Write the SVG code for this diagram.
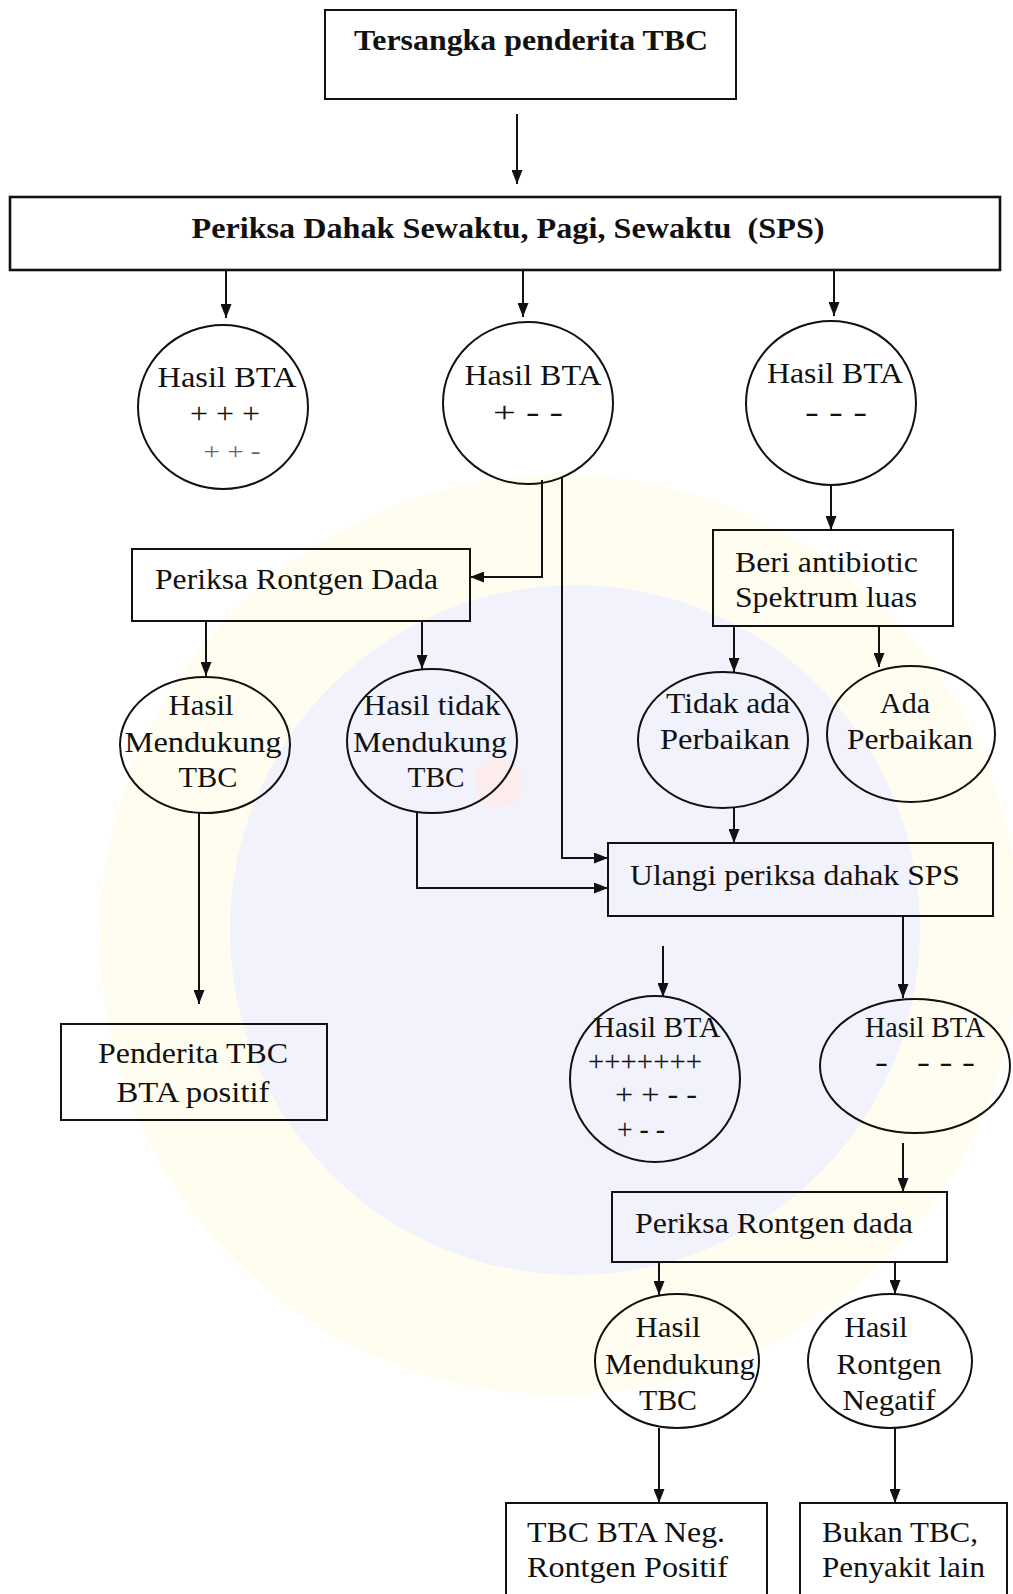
<svg xmlns="http://www.w3.org/2000/svg" width="1013" height="1594" viewBox="0 0 1013 1594">
  <style>
    .box { fill: none; stroke: #111; stroke-width: 2; }
    .box-heavy { fill: none; stroke: #111; stroke-width: 2.6; }
    .node { fill: none; stroke: #111; stroke-width: 2; }
    .t { font-family: "Liberation Serif", "Times New Roman", serif; font-size: 29px; fill: #111; }
    .tb { font-family: "Liberation Serif", "Times New Roman", serif; font-size: 29px; font-weight: bold; fill: #111; }
    .faint { fill: #666; font-size: 24px; }
    .c { text-anchor: middle; }
    .edge { fill: none; stroke: #111; stroke-width: 2; marker-end: url(#arrow); }
  </style>
  <defs>
    <marker id="arrow" markerUnits="userSpaceOnUse" viewBox="0 0 14 11" refX="14" refY="5.5" markerWidth="14" markerHeight="11" orient="auto">
      <path d="M0,0 L14,5.5 L0,11 z" fill="#111"/>
    </marker>
  </defs>

  <rect width="1013" height="1594" fill="#ffffff"/>

  <!-- faint emblem behind the chart -->
  <g id="watermark">
    <circle cx="560" cy="935" r="460" fill="#fffdf0"/>
    <circle cx="575" cy="930" r="345" fill="#f1f2fb"/>
    <circle cx="498" cy="783" r="24" fill="#fcecec"/>
  </g>

  <!-- connectors -->
  <g id="connectors">
    <path class="edge" d="M517,114 V184"/>
    <path class="edge" d="M226,271 V318"/>
    <path class="edge" d="M523,271 V317"/>
    <path class="edge" d="M834,271 V316"/>
    <path class="edge" d="M542,480 V577 H470"/>
    <path class="edge" d="M562,478 V858 H608"/>
    <path class="edge" d="M831,485 V530"/>
    <path class="edge" d="M206,622 V676"/>
    <path class="edge" d="M422,622 V669"/>
    <path class="edge" d="M734,626 V672"/>
    <path class="edge" d="M879,626 V667"/>
    <path class="edge" d="M199,813 V1004"/>
    <path class="edge" d="M417,813 V888 H608"/>
    <path class="edge" d="M734,808 V843"/>
    <path class="edge" d="M663,946 V997"/>
    <path class="edge" d="M903,916 V998"/>
    <path class="edge" d="M903,1143 V1192"/>
    <path class="edge" d="M659,1262 V1295"/>
    <path class="edge" d="M895,1262 V1294"/>
    <path class="edge" d="M659,1428 V1503"/>
    <path class="edge" d="M895,1428 V1503"/>
  </g>

  <g id="tersangka">
    <rect class="box" x="325" y="10" width="411" height="89"/>
    <text class="tb c" x="531" y="50" textLength="354" lengthAdjust="spacingAndGlyphs">Tersangka penderita TBC</text>
  </g>

  <g id="periksa-sps">
    <rect class="box-heavy" x="10" y="197" width="990" height="73"/>
    <text class="tb c" x="508" y="238" textLength="633" lengthAdjust="spacingAndGlyphs" xml:space="preserve">Periksa Dahak Sewaktu, Pagi, Sewaktu  (SPS)</text>
  </g>

  <g id="bta-positif-kuat">
    <ellipse class="node" cx="223" cy="407" rx="85" ry="82"/>
    <text class="t c" x="227" y="387" textLength="139" lengthAdjust="spacingAndGlyphs">Hasil BTA</text>
    <text class="t c" x="225" y="423" textLength="70" lengthAdjust="spacingAndGlyphs">+ + +</text>
    <text class="t c faint" x="232" y="459" textLength="57" lengthAdjust="spacingAndGlyphs">+ + -</text>
  </g>

  <g id="bta-positif-satu">
    <ellipse class="node" cx="528" cy="403" rx="85" ry="81"/>
    <text class="t c" x="533" y="385" textLength="137" lengthAdjust="spacingAndGlyphs">Hasil BTA</text>
    <text class="t c" x="528" y="422" textLength="70" lengthAdjust="spacingAndGlyphs">+ - -</text>
  </g>

  <g id="bta-negatif">
    <ellipse class="node" cx="831" cy="403" rx="85" ry="82"/>
    <text class="t c" x="835" y="383" textLength="136" lengthAdjust="spacingAndGlyphs">Hasil BTA</text>
    <text class="t c" x="836" y="422" textLength="62" lengthAdjust="spacingAndGlyphs">- - -</text>
  </g>

  <g id="rontgen-dada">
    <rect class="box" x="132" y="549" width="338" height="72"/>
    <text class="t" x="155" y="589" textLength="283" lengthAdjust="spacingAndGlyphs">Periksa Rontgen Dada</text>
  </g>

  <g id="antibiotik">
    <rect class="box" x="713" y="530" width="240" height="96"/>
    <text class="t" x="735" y="572" textLength="183" lengthAdjust="spacingAndGlyphs">Beri antibiotic</text>
    <text class="t" x="735" y="607" textLength="182" lengthAdjust="spacingAndGlyphs">Spektrum luas</text>
  </g>

  <g id="mendukung-1">
    <ellipse class="node" cx="205" cy="745" rx="85" ry="68"/>
    <text class="t c" x="201" y="715" textLength="65" lengthAdjust="spacingAndGlyphs">Hasil</text>
    <text class="t c" x="203" y="752" textLength="157" lengthAdjust="spacingAndGlyphs">Mendukung</text>
    <text class="t c" x="208" y="787" textLength="59" lengthAdjust="spacingAndGlyphs">TBC</text>
  </g>

  <g id="tidak-mendukung">
    <ellipse class="node" cx="432" cy="741" rx="85" ry="72"/>
    <text class="t c" x="432" y="715" textLength="137" lengthAdjust="spacingAndGlyphs">Hasil tidak</text>
    <text class="t c" x="430" y="752" textLength="154" lengthAdjust="spacingAndGlyphs">Mendukung</text>
    <text class="t c" x="436" y="787" textLength="57" lengthAdjust="spacingAndGlyphs">TBC</text>
  </g>

  <g id="tidak-ada-perbaikan">
    <ellipse class="node" cx="723" cy="740" rx="85" ry="68"/>
    <text class="t c" x="728" y="713" textLength="124" lengthAdjust="spacingAndGlyphs">Tidak ada</text>
    <text class="t c" x="725" y="749" textLength="130" lengthAdjust="spacingAndGlyphs">Perbaikan</text>
  </g>

  <g id="ada-perbaikan">
    <ellipse class="node" cx="911" cy="734" rx="84" ry="68"/>
    <text class="t c" x="905" y="713" textLength="50" lengthAdjust="spacingAndGlyphs">Ada</text>
    <text class="t c" x="910" y="749" textLength="126" lengthAdjust="spacingAndGlyphs">Perbaikan</text>
  </g>

  <g id="ulangi-sps">
    <rect class="box" x="608" y="843" width="385" height="73"/>
    <text class="t" x="630" y="885" textLength="330" lengthAdjust="spacingAndGlyphs">Ulangi periksa dahak SPS</text>
  </g>

  <g id="penderita-positif">
    <rect class="box" x="61" y="1024" width="266" height="96"/>
    <text class="t c" x="193" y="1063" textLength="190" lengthAdjust="spacingAndGlyphs">Penderita TBC</text>
    <text class="t c" x="193" y="1102" textLength="153" lengthAdjust="spacingAndGlyphs">BTA positif</text>
  </g>

  <g id="ulang-positif">
    <ellipse class="node" cx="655" cy="1079" rx="85" ry="83"/>
    <text class="t c" x="657" y="1037" textLength="127" lengthAdjust="spacingAndGlyphs">Hasil BTA</text>
    <text class="t c" x="645" y="1071" textLength="114" lengthAdjust="spacingAndGlyphs">+++++++</text>
    <text class="t c" x="656" y="1104" textLength="82" lengthAdjust="spacingAndGlyphs">+ + -  -</text>
    <text class="t c" x="641" y="1139" textLength="48" lengthAdjust="spacingAndGlyphs">+ - -</text>
  </g>

  <g id="ulang-negatif">
    <ellipse class="node" cx="915" cy="1066" rx="95" ry="67"/>
    <text class="t c" x="925" y="1037" textLength="120" lengthAdjust="spacingAndGlyphs">Hasil BTA</text>
    <text class="t c" x="925" y="1072" textLength="100" lengthAdjust="spacingAndGlyphs" xml:space="preserve">-   - - -</text>
  </g>

  <g id="rontgen-dada-2">
    <rect class="box" x="612" y="1192" width="335" height="70"/>
    <text class="t" x="635" y="1233" textLength="278" lengthAdjust="spacingAndGlyphs">Periksa Rontgen dada</text>
  </g>

  <g id="mendukung-2">
    <ellipse class="node" cx="677" cy="1361" rx="82" ry="67"/>
    <text class="t c" x="668" y="1337" textLength="65" lengthAdjust="spacingAndGlyphs">Hasil</text>
    <text class="t c" x="680" y="1374" textLength="150" lengthAdjust="spacingAndGlyphs">Mendukung</text>
    <text class="t c" x="668" y="1410" textLength="58" lengthAdjust="spacingAndGlyphs">TBC</text>
  </g>

  <g id="rontgen-negatif">
    <ellipse class="node" cx="890" cy="1361" rx="82" ry="67"/>
    <text class="t c" x="876" y="1337" textLength="63" lengthAdjust="spacingAndGlyphs">Hasil</text>
    <text class="t c" x="889" y="1374" textLength="105" lengthAdjust="spacingAndGlyphs">Rontgen</text>
    <text class="t c" x="889" y="1410" textLength="93" lengthAdjust="spacingAndGlyphs">Negatif</text>
  </g>

  <g id="bta-neg-rontgen-pos">
    <rect class="box" x="506" y="1503" width="261" height="100"/>
    <text class="t" x="527" y="1542" textLength="198" lengthAdjust="spacingAndGlyphs">TBC BTA Neg.</text>
    <text class="t" x="527" y="1577" textLength="201" lengthAdjust="spacingAndGlyphs">Rontgen Positif</text>
  </g>

  <g id="bukan-tbc">
    <rect class="box" x="800" y="1503" width="207" height="100"/>
    <text class="t" x="822" y="1542" textLength="156" lengthAdjust="spacingAndGlyphs">Bukan TBC,</text>
    <text class="t" x="822" y="1577" textLength="163" lengthAdjust="spacingAndGlyphs">Penyakit lain</text>
  </g>
</svg>
